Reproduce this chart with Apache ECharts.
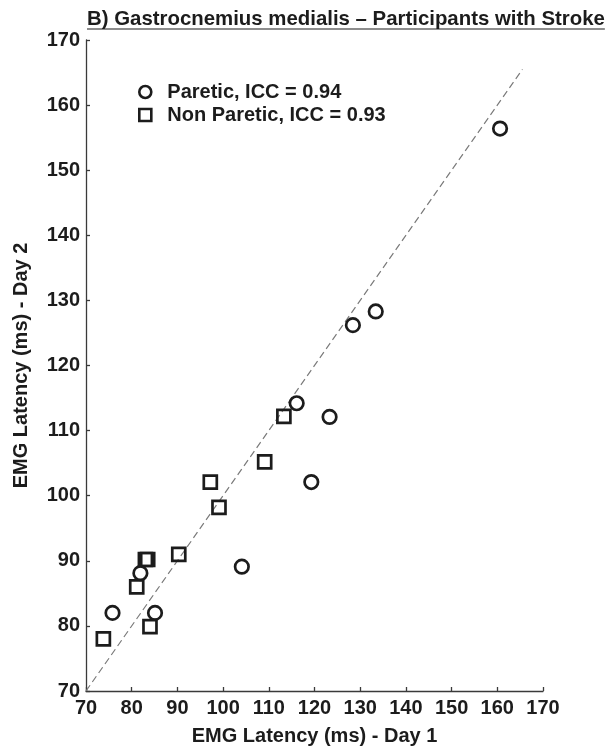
<!DOCTYPE html>
<html>
<head>
<meta charset="utf-8">
<script src="https://cdn.jsdelivr.net/npm/echarts@6/dist/echarts.min.js"></script>
<style>
  html, body { margin: 0; padding: 0; background: #fff; }
  #main { width: 608px; height: 751px; }
</style>
</head>
<body>
<div id="main"></div>
<script>
// data (ms)
var pareticDay1 = [75.8, 81.9, 85.1, 104.1, 116.1, 119.3, 123.3, 128.4, 133.4, 160.6];
var pareticDay2 = [82.0, 88.1, 82.0, 89.1, 114.2, 102.1, 112.1, 126.2, 128.3, 156.4];
var nonPareticDay1 = [73.8, 84.0, 81.1, 83.0, 83.5, 90.3, 97.2, 99.1, 109.1, 113.3];
var nonPareticDay2 = [78.0, 79.9, 86.0, 90.2, 90.2, 91.0, 102.1, 98.2, 105.2, 112.2];
var identityLine = [70, 165.5];
var legendNames = ["Paretic, ICC = 0.94", "Non Paretic, ICC = 0.93"];
var titleText = "B) Gastrocnemius medialis \u2013 Participants with Stroke";

var FONT = '"Liberation Sans", Arial, Helvetica, sans-serif';
var INK = "#1c1c1c";

function pairs(a, b) {
  return a.map(function (v, i) { return [v, b[i]]; });
}

// width of the title, for the underline
var ctx = document.createElement("canvas").getContext("2d");
ctx.font = "bold 20.4px " + FONT;
var titleW = ctx.measureText(titleText).width;

var markerStyle = {
  color: "rgba(0,0,0,0)",
  borderColor: INK,
  borderWidth: 2.7,
  opacity: 1
};

var axisCommon = {
  type: "value",
  min: 70,
  max: 170,
  interval: 10,
  nameLocation: "middle",
  nameTextStyle: { fontFamily: FONT, fontWeight: "bold", fontSize: 20, color: INK },
  axisLine: { show: true, onZero: false, lineStyle: { color: "#3a3a3a", width: 1.3 } },
  axisTick: { show: true, inside: true, length: 4, lineStyle: { color: "#3a3a3a", width: 1.3 } },
  axisLabel: { fontFamily: FONT, fontWeight: "bold", fontSize: 20, color: INK },
  splitLine: { show: false }
};

var option = {
  animation: false,
  backgroundColor: "#fff",
  title: {
    text: titleText,
    left: 87,
    top: 9,
    padding: 0,
    textStyle: { fontFamily: FONT, fontWeight: "bold", fontSize: 20.4, color: INK }
  },
  graphic: [{
    type: "line",
    shape: { x1: 87, y1: 29, x2: 87 + titleW, y2: 29 },
    style: { stroke: INK, lineWidth: 1.2 }
  }],
  legend: {
    orient: "vertical",
    left: 138,
    top: 82,
    padding: 0,
    itemGap: 3,
    itemWidth: 12,
    itemHeight: 12,
    data: [
      { name: legendNames[0], icon: "circle" },
      { name: legendNames[1], icon: "rect" }
    ],
    itemStyle: { color: "rgba(0,0,0,0)", borderColor: INK, borderWidth: 2.6 },
    textStyle: { fontFamily: FONT, fontWeight: "bold", fontSize: 20, color: INK, padding: [0, 0, 0, 11] }
  },
  grid: { left: 86, right: 65, top: 40, bottom: 55, containLabel: false },
  xAxis: Object.assign({}, axisCommon, {
    name: "EMG Latency (ms) - Day 1",
    nameGap: 35,
    axisLabel: Object.assign({}, axisCommon.axisLabel, { margin: 7 })
  }),
  yAxis: Object.assign({}, axisCommon, {
    name: "EMG Latency (ms) - Day 2",
    nameGap: 55,
    axisLabel: Object.assign({}, axisCommon.axisLabel, { margin: 6, padding: [4, 0, 0, 0] })
  }),
  series: [
    {
      type: "line",
      name: "identity",
      data: [[identityLine[0], identityLine[0]], [identityLine[1], identityLine[1]]],
      symbol: "none",
      silent: true,
      lineStyle: { color: "#7a7a7a", width: 1.2, type: [7, 4] },
      z: 1
    },
    {
      type: "scatter",
      name: legendNames[0],
      data: pairs(pareticDay1, pareticDay2),
      symbol: "circle",
      symbolSize: 13.5,
      itemStyle: markerStyle,
      z: 3
    },
    {
      type: "scatter",
      name: legendNames[1],
      data: pairs(nonPareticDay1, nonPareticDay2),
      symbol: "rect",
      symbolSize: 13,
      itemStyle: markerStyle,
      z: 2
    }
  ]
};

var myChart = echarts.init(document.getElementById("main"), null, { renderer: "canvas" });
myChart.setOption(option);
</script>
</body>
</html>
